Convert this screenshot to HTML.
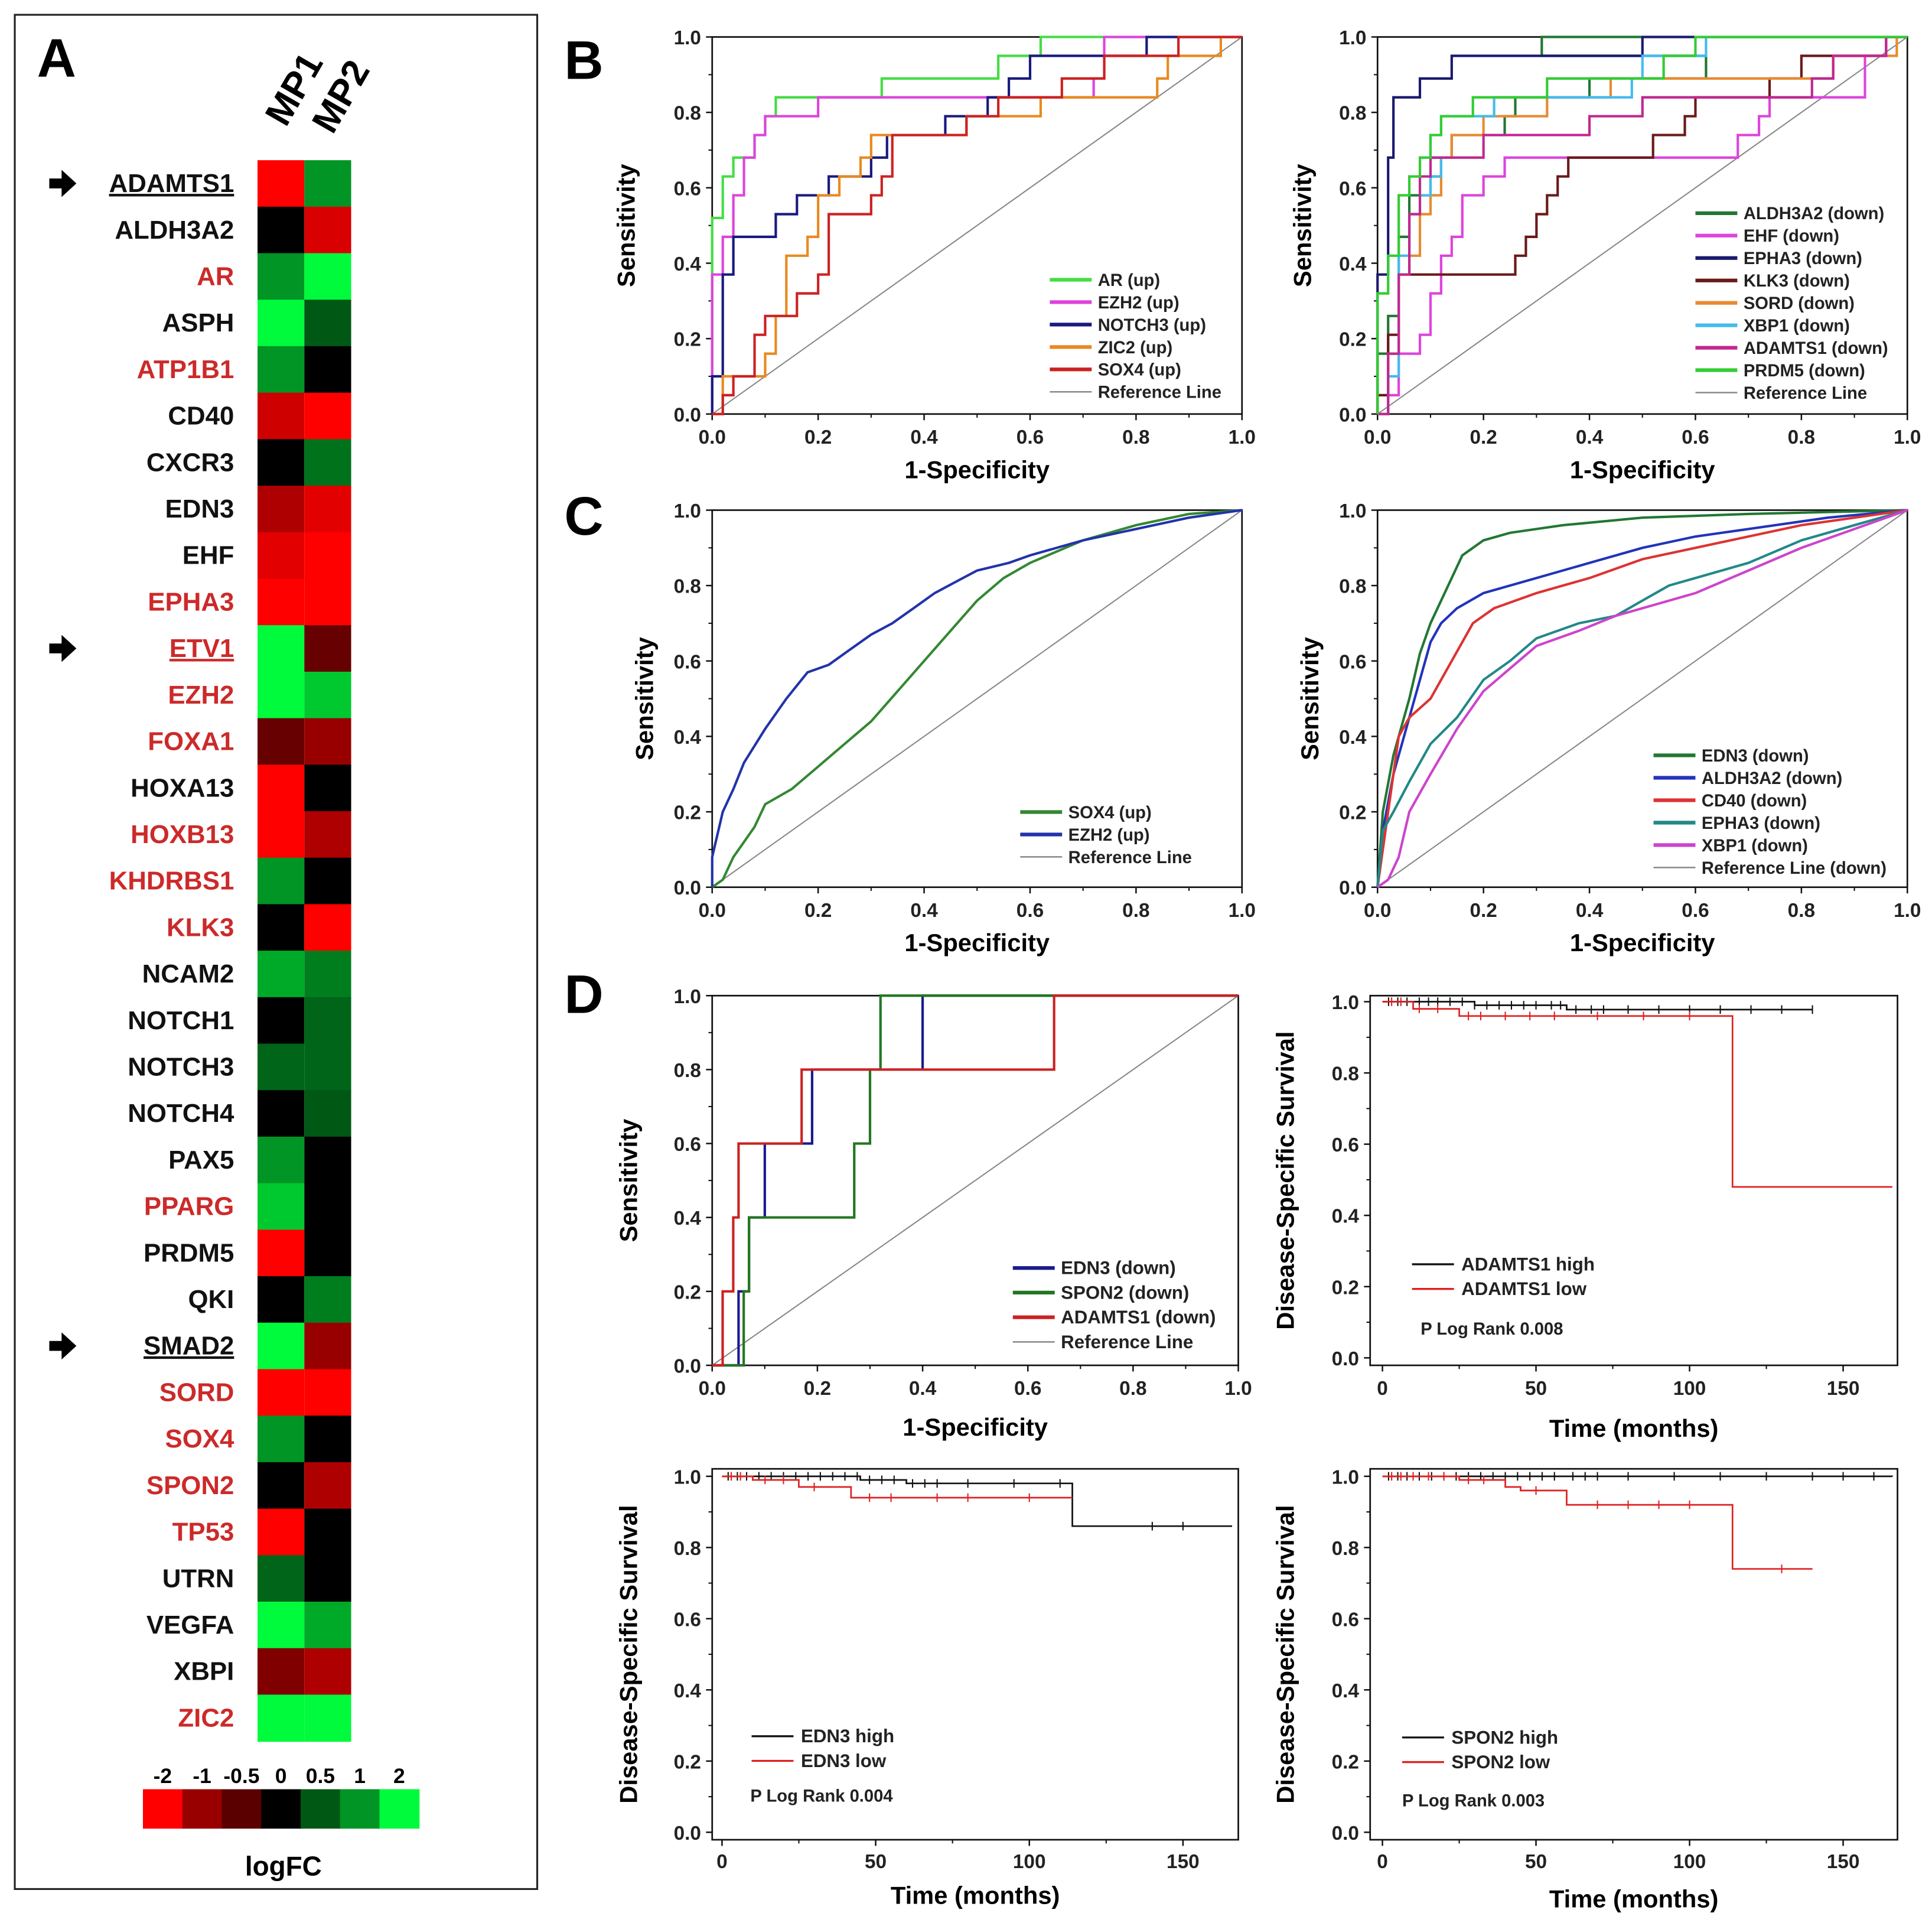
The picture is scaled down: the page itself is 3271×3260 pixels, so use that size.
<!DOCTYPE html>
<html><head><meta charset="utf-8"><style>
html,body{margin:0;padding:0;background:#fff;}
svg{display:block;font-family:"Liberation Sans",Arial,sans-serif;}
</style></head><body>
<svg id="fig" xmlns="http://www.w3.org/2000/svg" width="3271" height="3260" viewBox="0 0 1568 1563" preserveAspectRatio="none"></svg>
<script>
// ---------- Panel A data ----------
const genes=['ADAMTS1','ALDH3A2','AR','ASPH','ATP1B1','CD40','CXCR3','EDN3','EHF','EPHA3','ETV1','EZH2','FOXA1','HOXA13','HOXB13','KHDRBS1','KLK3','NCAM2','NOTCH1','NOTCH3','NOTCH4','PAX5','PPARG','PRDM5','QKI','SMAD2','SORD','SOX4','SPON2','TP53','UTRN','VEGFA','XBPI','ZIC2'];
const mp1=[-2,0,1,2,1,-1.5,0,-1.2,-1.7,-2,2,2,-0.6,-2,-2,1,0,1.2,0,0.6,0,1,1.5,-2,0,2,-2,1,0,-2,0.6,2,-0.8,2];
const mp2=[1,-1.6,2,0.5,0,-2,0.7,-1.7,-2,-2,-0.6,1.5,-1,0,-1.2,0,-2,0.8,0.6,0.6,0.5,0,0,0,0.8,-1,-2,0,-1.2,0,0,1.2,-1.2,2];
const redGenes=['AR','ATP1B1','EPHA3','ETV1','EZH2','FOXA1','HOXB13','KHDRBS1','KLK3','PPARG','SORD','SOX4','SPON2','TP53','ZIC2'];
const markedGenes=['ADAMTS1','ETV1','SMAD2'];
const scaleVals=[-2,-1,-0.5,0,0.5,1,2];
const scaleLabels=['-2','-1','-0.5','0','0.5','1','2'];

// ---------- ROC data ----------
const bLeftNames=['AR (up)','EZH2 (up)','NOTCH3 (up)','ZIC2 (up)','SOX4 (up)'];
const bLeftColors=['#44dd44','#dd44dd','#1a1a80','#e88a20','#cc2222'];
const bL_AR=[[0,0],[0,0.52],[0.02,0.52],[0.02,0.63],[0.04,0.63],[0.04,0.68],[0.08,0.68],[0.08,0.74],[0.1,0.74],[0.1,0.79],[0.12,0.79],[0.12,0.84],[0.32,0.84],[0.32,0.89],[0.54,0.89],[0.54,0.95],[0.62,0.95],[0.62,1],[1,1]];
const bL_EZH2=[[0,0],[0,0.37],[0.02,0.37],[0.02,0.47],[0.04,0.47],[0.04,0.58],[0.06,0.58],[0.06,0.68],[0.08,0.68],[0.08,0.74],[0.1,0.74],[0.1,0.79],[0.2,0.79],[0.2,0.84],[0.72,0.84],[0.72,0.89],[0.74,0.89],[0.74,1],[1,1]];
const bL_NOTCH3=[[0,0],[0,0.1],[0.02,0.1],[0.02,0.37],[0.04,0.37],[0.04,0.47],[0.12,0.47],[0.12,0.53],[0.16,0.53],[0.16,0.58],[0.22,0.58],[0.22,0.63],[0.3,0.63],[0.3,0.68],[0.33,0.68],[0.33,0.74],[0.44,0.74],[0.44,0.79],[0.52,0.79],[0.52,0.84],[0.56,0.84],[0.56,0.89],[0.6,0.89],[0.6,0.95],[0.82,0.95],[0.82,1],[1,1]];
const bL_ZIC2=[[0,0],[0.02,0],[0.02,0.1],[0.1,0.1],[0.1,0.16],[0.12,0.16],[0.12,0.26],[0.14,0.26],[0.14,0.42],[0.18,0.42],[0.18,0.47],[0.2,0.47],[0.2,0.58],[0.24,0.58],[0.24,0.63],[0.28,0.63],[0.28,0.68],[0.3,0.68],[0.3,0.74],[0.48,0.74],[0.48,0.79],[0.62,0.79],[0.62,0.84],[0.84,0.84],[0.84,0.89],[0.86,0.89],[0.86,0.95],[0.96,0.95],[0.96,1],[1,1]];
const bL_SOX4=[[0,0],[0.02,0],[0.02,0.05],[0.04,0.05],[0.04,0.1],[0.08,0.1],[0.08,0.21],[0.1,0.21],[0.1,0.26],[0.16,0.26],[0.16,0.32],[0.2,0.32],[0.2,0.37],[0.22,0.37],[0.22,0.53],[0.3,0.53],[0.3,0.58],[0.32,0.58],[0.32,0.63],[0.34,0.63],[0.34,0.74],[0.48,0.74],[0.48,0.79],[0.54,0.79],[0.54,0.84],[0.66,0.84],[0.66,0.89],[0.74,0.89],[0.74,0.95],[0.88,0.95],[0.88,1],[1,1]];

const bRightNames=['ALDH3A2 (down)','EHF (down)','EPHA3 (down)','KLK3 (down)','SORD (down)','XBP1 (down)','ADAMTS1 (down)','PRDM5 (down)'];
const bRightColors=['#227733','#dd44dd','#1a1a70','#6a1a1a','#e88a30','#44bbee','#c02890','#33cc33'];
const bR_ALDH3A2=[[0,0],[0,0.16],[0.02,0.16],[0.02,0.26],[0.04,0.26],[0.04,0.47],[0.06,0.47],[0.06,0.58],[0.1,0.58],[0.1,0.63],[0.12,0.63],[0.12,0.68],[0.14,0.68],[0.14,0.74],[0.24,0.74],[0.24,0.79],[0.26,0.79],[0.26,0.84],[0.4,0.84],[0.4,0.89],[0.42,0.89],[0.42,0.89],[0.62,0.89],[0.62,0.95],[0.31,0.95],[0.31,1],[1,1]];
const bR_EHF=[[0,0],[0.02,0],[0.02,0.05],[0.04,0.05],[0.04,0.16],[0.08,0.16],[0.08,0.21],[0.1,0.21],[0.1,0.32],[0.12,0.32],[0.12,0.42],[0.14,0.42],[0.14,0.47],[0.16,0.47],[0.16,0.58],[0.2,0.58],[0.2,0.63],[0.24,0.63],[0.24,0.68],[0.68,0.68],[0.68,0.74],[0.72,0.74],[0.72,0.79],[0.74,0.79],[0.74,0.84],[0.92,0.84],[0.92,0.95],[0.96,0.95],[0.96,1],[1,1]];
const bR_EPHA3=[[0,0],[0,0.37],[0.02,0.37],[0.02,0.68],[0.03,0.68],[0.03,0.84],[0.08,0.84],[0.08,0.89],[0.14,0.89],[0.14,0.95],[0.5,0.95],[0.5,1],[1,1]];
const bR_KLK3=[[0,0],[0,0.05],[0.02,0.05],[0.02,0.21],[0.04,0.21],[0.04,0.37],[0.26,0.37],[0.26,0.42],[0.28,0.42],[0.28,0.47],[0.3,0.47],[0.3,0.53],[0.32,0.53],[0.32,0.58],[0.34,0.58],[0.34,0.63],[0.36,0.63],[0.36,0.68],[0.52,0.68],[0.52,0.74],[0.58,0.74],[0.58,0.79],[0.6,0.79],[0.6,0.84],[0.74,0.84],[0.74,0.89],[0.8,0.89],[0.8,0.95],[0.96,0.95],[0.96,1],[1,1]];
const bR_SORD=[[0,0],[0.02,0],[0.02,0.16],[0.04,0.16],[0.04,0.37],[0.06,0.37],[0.06,0.42],[0.08,0.42],[0.08,0.53],[0.1,0.53],[0.1,0.58],[0.12,0.58],[0.12,0.68],[0.14,0.68],[0.14,0.74],[0.2,0.74],[0.2,0.79],[0.32,0.79],[0.32,0.84],[0.44,0.84],[0.44,0.89],[0.86,0.89],[0.86,0.95],[0.98,0.95],[0.98,1],[1,1]];
const bR_XBP1=[[0,0],[0.02,0],[0.02,0.1],[0.04,0.1],[0.04,0.42],[0.06,0.42],[0.06,0.53],[0.08,0.53],[0.08,0.58],[0.1,0.58],[0.1,0.63],[0.12,0.63],[0.12,0.68],[0.1,0.68],[0.1,0.74],[0.12,0.74],[0.12,0.79],[0.22,0.79],[0.22,0.84],[0.48,0.84],[0.48,0.89],[0.5,0.89],[0.5,0.95],[0.62,0.95],[0.62,1],[1,1]];
const bR_ADAMTS1=[[0,0],[0.02,0],[0.02,0.16],[0.04,0.16],[0.04,0.37],[0.06,0.37],[0.06,0.53],[0.08,0.53],[0.08,0.63],[0.1,0.63],[0.1,0.68],[0.2,0.68],[0.2,0.74],[0.4,0.74],[0.4,0.79],[0.5,0.79],[0.5,0.84],[0.82,0.84],[0.82,0.89],[0.86,0.89],[0.86,0.95],[0.96,0.95],[0.96,1],[1,1]];
const bR_PRDM5=[[0,0],[0,0.32],[0.02,0.32],[0.02,0.42],[0.04,0.42],[0.04,0.58],[0.06,0.58],[0.06,0.63],[0.08,0.63],[0.08,0.68],[0.1,0.68],[0.1,0.74],[0.12,0.74],[0.12,0.79],[0.18,0.79],[0.18,0.84],[0.32,0.84],[0.32,0.89],[0.54,0.89],[0.54,0.95],[0.6,0.95],[0.6,1],[1,1]];

const cLeftNames=['SOX4 (up)','EZH2 (up)'];
const cLeftColors=['#338833','#2233aa'];
const cL_SOX4=[[0,0],[0.02,0.02],[0.04,0.08],[0.06,0.12],[0.08,0.16],[0.1,0.22],[0.15,0.26],[0.2,0.32],[0.25,0.38],[0.3,0.44],[0.35,0.52],[0.4,0.6],[0.45,0.68],[0.5,0.76],[0.55,0.82],[0.6,0.86],[0.7,0.92],[0.8,0.96],[0.9,0.99],[1,1]];
const cL_EZH2=[[0,0],[0,0.08],[0.02,0.2],[0.04,0.26],[0.06,0.33],[0.1,0.42],[0.14,0.5],[0.18,0.57],[0.22,0.59],[0.26,0.63],[0.3,0.67],[0.34,0.7],[0.38,0.74],[0.42,0.78],[0.46,0.81],[0.5,0.84],[0.56,0.86],[0.6,0.88],[0.7,0.92],[0.8,0.95],[0.9,0.98],[1,1]];

const cRightNames=['EDN3 (down)','ALDH3A2 (down)','CD40 (down)','EPHA3 (down)','XBP1 (down)'];
const cRightColors=['#227733','#2233bb','#dd3333','#228888','#cc44cc'];
const cR_EDN3=[[0,0],[0.01,0.2],[0.03,0.35],[0.06,0.5],[0.08,0.62],[0.1,0.7],[0.12,0.76],[0.14,0.82],[0.16,0.88],[0.2,0.92],[0.25,0.94],[0.35,0.96],[0.5,0.98],[0.7,0.99],[1,1]];
const cR_ALDH3A2=[[0,0],[0.01,0.15],[0.03,0.3],[0.06,0.45],[0.08,0.55],[0.1,0.65],[0.12,0.7],[0.15,0.74],[0.2,0.78],[0.25,0.8],[0.3,0.82],[0.4,0.86],[0.5,0.9],[0.6,0.93],[0.7,0.95],[0.85,0.98],[1,1]];
const cR_CD40=[[0,0],[0.02,0.2],[0.04,0.4],[0.06,0.45],[0.1,0.5],[0.14,0.6],[0.18,0.7],[0.22,0.74],[0.3,0.78],[0.4,0.82],[0.5,0.87],[0.6,0.9],[0.7,0.93],[0.8,0.96],[1,1]];
const cR_EPHA3=[[0,0],[0.01,0.15],[0.03,0.2],[0.06,0.28],[0.1,0.38],[0.15,0.45],[0.2,0.55],[0.25,0.6],[0.3,0.66],[0.38,0.7],[0.45,0.72],[0.5,0.76],[0.55,0.8],[0.6,0.82],[0.7,0.86],[0.8,0.92],[0.9,0.96],[1,1]];
const cR_XBP1=[[0,0],[0.02,0.02],[0.04,0.08],[0.06,0.2],[0.1,0.3],[0.15,0.42],[0.2,0.52],[0.25,0.58],[0.3,0.64],[0.38,0.68],[0.45,0.72],[0.5,0.74],[0.6,0.78],[0.7,0.84],[0.8,0.9],[0.9,0.95],[1,1]];

const dLeftNames=['EDN3 (down)','SPON2 (down)','ADAMTS1 (down)'];
const dLeftColors=['#1a1a90','#227722','#cc2222'];
const dL_EDN3=[[0,0],[0.05,0],[0.05,0.2],[0.07,0.2],[0.07,0.4],[0.1,0.4],[0.1,0.6],[0.19,0.6],[0.19,0.8],[0.4,0.8],[0.4,1],[1,1]];
const dL_SPON2=[[0,0],[0.06,0],[0.06,0.2],[0.07,0.2],[0.07,0.4],[0.27,0.4],[0.27,0.6],[0.3,0.6],[0.3,0.8],[0.32,0.8],[0.32,1],[1,1]];
const dL_ADAMTS1=[[0,0],[0.02,0],[0.02,0.2],[0.04,0.2],[0.04,0.4],[0.05,0.4],[0.05,0.6],[0.17,0.6],[0.17,0.8],[0.65,0.8],[0.65,1],[1,1]];

// ---------- KM data ([time, survival] change points, last = end) ----------
const km1High=[[0,1],[30,0.99],[60,0.978],[140,0.978]];
const km1Low=[[0,1],[10,0.98],[25,0.96],[114,0.48],[166,0.48]];
const km1HighCens=[2,5,8,12,15,18,22,26,30,34,38,42,46,50,55,58,63,68,72,80,90,100,110,120,130,140];
const km1LowCens=[3,6,12,18,28,32,40,48,56,70,85,100];
const km2High=[[0,1],[45,0.99],[60,0.98],[114,0.86],[166,0.86]];
const km2Low=[[0,1],[10,0.99],[25,0.97],[42,0.94],[114,0.94]];
const km2HighCens=[2,5,8,12,16,20,24,28,32,36,40,44,48,52,56,62,66,70,80,95,110,140,150];
const km2LowCens=[3,6,14,20,30,48,55,70,80,100];
const km3High=[[0,1],[166,1]];
const km3Low=[[0,1],[25,0.99],[40,0.97],[45,0.96],[60,0.92],[114,0.74],[140,0.74]];
const km3HighCens=[2,5,8,12,16,20,24,28,32,36,40,44,48,52,56,62,66,70,80,95,110,125,140,150,160];
const km3LowCens=[3,6,10,15,20,28,33,50,70,80,90,100,130];

// ---------- helpers ----------
const NS='http://www.w3.org/2000/svg';
const svg=document.getElementById('fig');
function mk(tag,attrs,parent,text){const e=document.createElementNS(NS,tag);for(const k in attrs)e.setAttribute(k,attrs[k]);if(text!==undefined)e.textContent=text;(parent||svg).appendChild(e);return e;}
function heat(v){const t=Math.pow(Math.min(1,Math.abs(v)/2),0.75);if(v<0)return 'rgb('+Math.round(255*t)+',0,0)';return 'rgb(0,'+Math.round(250*t)+','+Math.round(60*t)+')';}

// ---------- Panel A ----------
const gA=mk('g',{});


const frame=mk('rect',{x:12,y:12,width:424,height:1521,fill:'none',stroke:'#222','stroke-width':1.5},gA);


const la=mk('text',{x:30,y:62,'font-size':44,'font-weight':'bold'},gA,'A');


const mpl1=mk('text',{x:0,y:0,'font-size':30,'font-weight':'bold',transform:'translate(232,104) rotate(-60)'},gA,'MP1');


const mpl2=mk('text',{x:0,y:0,'font-size':30,'font-weight':'bold',transform:'translate(270,110) rotate(-60)'},gA,'MP2');


const rowH=(1413-130)/genes.length;
genes.forEach((g,i)=>{
  const y=130+i*rowH;
  const c1=mk('rect',{x:209,y:y,width:38,height:rowH+0.5,fill:heat(mp1[i])},gA);
  
  
  const c2=mk('rect',{x:247,y:y,width:38,height:rowH+0.5,fill:heat(mp2[i])},gA);
  
  
  const isRed=redGenes.includes(g), marked=markedGenes.includes(g);
  const t=mk('text',{x:190,y:y+rowH/2+7,'font-size':21,'font-weight':'bold','text-anchor':'end',fill:isRed?'#cc2a2a':'#111','text-decoration':marked?'underline':'none'},gA,g);
  
  
  if(marked){
    const ar=mk('path',{d:'M40 '+(y+rowH/2-4)+' h10 v-7 l12 11 l-12 11 v-7 h-10 z',fill:'#000'},gA);
    
    
  }
});
scaleVals.forEach((v,i)=>{
  const r=mk('rect',{x:116+i*32,y:1452,width:32.5,height:32,fill:heat(v)},gA);
  
  
  const t=mk('text',{x:116+i*32+16,y:1447,'font-size':17,'font-weight':'bold','text-anchor':'middle'},gA,scaleLabels[i]);
  
  
});
const lfc=mk('text',{x:230,y:1522,'font-size':22,'font-weight':'bold','text-anchor':'middle'},gA,'logFC');



// ---------- panel letters ----------
[['B',458,64],['C',458,434],['D',458,822]].forEach(p=>{
  const t=mk('text',{x:p[1],y:p[2],'font-size':44,'font-weight':'bold'},svg,p[0]);
  
  
});

// ---------- generic axes ----------
function axes(name,box,dom,xt,yt,xfmt,xTitle,yTitle,yTitleX,xLabY,xTitleY){
  const g=mk('g',{});
  
  
  const sx=v=>box.x0+(v-dom.x0)/(dom.x1-dom.x0)*(box.x1-box.x0);
  const sy=v=>box.y1-(v-dom.y0)/(dom.y1-dom.y0)*(box.y1-box.y0);
  const fr=mk('rect',{x:box.x0,y:box.y0,width:box.x1-box.x0,height:box.y1-box.y0,fill:'none',stroke:'#111','stroke-width':1.3},g);
  
  
  xt.forEach((v,i)=>{
    const tk=mk('line',{x1:sx(v),x2:sx(v),y1:box.y1,y2:box.y1+5,stroke:'#111','stroke-width':1.2},g);
    
    
    if(i<xt.length-1){const m=(v+xt[i+1])/2;const mt=mk('line',{x1:sx(m),x2:sx(m),y1:box.y1,y2:box.y1+3,stroke:'#111','stroke-width':1},g);}
    const t=mk('text',{x:sx(v),y:xLabY,'font-size':16,'font-weight':'bold','text-anchor':'middle',fill:'#222'},g,xfmt(v));
    
    
  });
  yt.forEach((v,i)=>{
    const tk=mk('line',{x1:box.x0-5,x2:box.x0,y1:sy(v),y2:sy(v),stroke:'#111','stroke-width':1.2},g);
    
    
    if(i<yt.length-1){const m=(v+yt[i+1])/2;const mt=mk('line',{x1:box.x0-3,x2:box.x0,y1:sy(m),y2:sy(m),stroke:'#111','stroke-width':1},g);}
    const t=mk('text',{x:box.x0-9,y:sy(v)+6,'font-size':16,'font-weight':'bold','text-anchor':'end',fill:'#222'},g,v.toFixed(1));
    
    
  });
  const xtl=mk('text',{x:(box.x0+box.x1)/2,y:xTitleY,'font-size':20,'font-weight':'bold','text-anchor':'middle'},g,xTitle);
  
  
  const ytl=mk('text',{x:0,y:0,'font-size':20,'font-weight':'bold','text-anchor':'middle',transform:'translate('+yTitleX+','+((box.y0+box.y1)/2)+') rotate(-90)'},g,yTitle);
  
  
  return {g,sx,sy};
}
const rocTicks=[0,0.2,0.4,0.6,0.8,1.0];
function roc(name,box,xLabY,xTitleY,yTitleX,series,names,colors,leg,refName){
  const a=axes(name,box,{x0:0,x1:1,y0:0,y1:1},rocTicks,rocTicks,v=>v.toFixed(1),'1-Specificity','Sensitivity',yTitleX,xLabY,xTitleY);
  const ref=mk('line',{x1:a.sx(0),y1:a.sy(0),x2:a.sx(1),y2:a.sy(1),stroke:'#888','stroke-width':1},a.g);
  
  
  series.forEach((s,i)=>{
    const pl=mk('polyline',{points:s.map(p=>a.sx(p[0]).toFixed(1)+','+a.sy(p[1]).toFixed(1)).join(' '),fill:'none',stroke:colors[i],'stroke-width':2},a.g);
    
    
  });
  const all=names.concat([refName]);
  all.forEach((n,i)=>{
    const y=leg.y+i*leg.dy;
    const ln=mk('line',{x1:leg.x,x2:leg.x+leg.w,y1:y,y2:y,stroke:i<names.length?colors[i]:'#888','stroke-width':i<names.length?3:1.2},a.g);
    
    
    const t=mk('text',{x:leg.x+leg.w+5,y:y+5,'font-size':leg.fs,'font-weight':'bold',fill:'#222'},a.g,n);
    
    
  });
}
roc('roc-b-left',{x0:578,x1:1008,y0:30,y1:336},360,388,515,[bL_AR,bL_EZH2,bL_NOTCH3,bL_ZIC2,bL_SOX4],bLeftNames,bLeftColors,{x:852,y:227,dy:18.2,w:34,fs:14},'Reference Line');
roc('roc-b-right',{x0:1118,x1:1548,y0:30,y1:336},360,388,1064,[bR_ALDH3A2,bR_EHF,bR_EPHA3,bR_KLK3,bR_SORD,bR_XBP1,bR_ADAMTS1,bR_PRDM5],bRightNames,bRightColors,{x:1376,y:173,dy:18.2,w:34,fs:14},'Reference Line');
roc('roc-c-left',{x0:578,x1:1008,y0:414,y1:720},744,772,530,[cL_SOX4,cL_EZH2],cLeftNames,cLeftColors,{x:828,y:659,dy:18.2,w:34,fs:14},'Reference Line');
roc('roc-c-right',{x0:1118,x1:1548,y0:414,y1:720},744,772,1070,[cR_EDN3,cR_ALDH3A2,cR_CD40,cR_EPHA3,cR_XBP1],cRightNames,cRightColors,{x:1342,y:613,dy:18.2,w:34,fs:14},'Reference Line (down)');
roc('roc-d-left',{x0:578,x1:1005,y0:808,y1:1108},1132,1165,517,[dL_EDN3,dL_SPON2,dL_ADAMTS1],dLeftNames,dLeftColors,{x:822,y:1029,dy:20,w:34,fs:15},'Reference Line');

// ---------- KM ----------
function survAt(c,t){let s=c[0][1];for(const p of c){if(p[0]<=t)s=p[1];}return s;}
function km(name,box,dom,xLabY,xTitleY,yTitleX,hi,lo,hiC,loC,names,pval,leg){
  const a=axes(name,box,dom,[0,50,100,150],[0,0.2,0.4,0.6,0.8,1.0],v=>String(v),'Time (months)','Disease-Specific Survival',yTitleX,xLabY,xTitleY);
  [[hi,hiC,'#111'],[lo,loC,'#e02020']].forEach((s,k)=>{
    const c=s[0];let d='M'+a.sx(c[0][0])+' '+a.sy(c[0][1]);
    for(let i=1;i<c.length;i++){d+=' H'+a.sx(c[i][0]).toFixed(1)+' V'+a.sy(c[i][1]).toFixed(1);}
    const p=mk('path',{d:d,fill:'none',stroke:s[2],'stroke-width':1.3},a.g);
    
    
    s[1].forEach(t=>{
      if(t>c[c.length-1][0])return;
      const y=a.sy(survAt(c,t));
      const m=mk('line',{x1:a.sx(t),x2:a.sx(t),y1:y-3.5,y2:y+3.5,stroke:s[2],'stroke-width':1},a.g);
      
      
    });
  });
  names.forEach((n,i)=>{
    const y=leg.y+i*20;
    const ln=mk('line',{x1:leg.x,x2:leg.x+34,y1:y,y2:y,stroke:i==0?'#111':'#e02020','stroke-width':1.6},a.g);
    
    
    const t=mk('text',{x:leg.x+40,y:y+5,'font-size':15,'font-weight':'bold',fill:'#222'},a.g,n);
    
    
  });
  const pt=mk('text',{x:leg.px,y:leg.py,'font-size':14,'font-weight':'bold',fill:'#222'},a.g,pval);
  
  
}
km('km-adamts1',{x0:1112,x1:1540,y0:808,y1:1108},{x0:-4,x1:167.7,y0:-0.021,y1:1.017},1132,1166,1050,km1High,km1Low,km1HighCens,km1LowCens,['ADAMTS1 high','ADAMTS1 low'],'P Log Rank 0.008',{x:1146,y:1026,px:1153,py:1083});
km('km-edn3',{x0:578,x1:1005,y0:1192,y1:1493},{x0:-3.2,x1:168,y0:-0.021,y1:1.021},1516,1545,517,km2High,km2Low,km2HighCens,km2LowCens,['EDN3 high','EDN3 low'],'P Log Rank 0.004',{x:610,y:1409,px:609,py:1462});
km('km-spon2',{x0:1112,x1:1540,y0:1192,y1:1493},{x0:-4,x1:167.7,y0:-0.021,y1:1.021},1516,1548,1050,km3High,km3Low,km3HighCens,km3LowCens,['SPON2 high','SPON2 low'],'P Log Rank 0.003',{x:1138,y:1410,px:1138,py:1466});
</script>
</body></html>
